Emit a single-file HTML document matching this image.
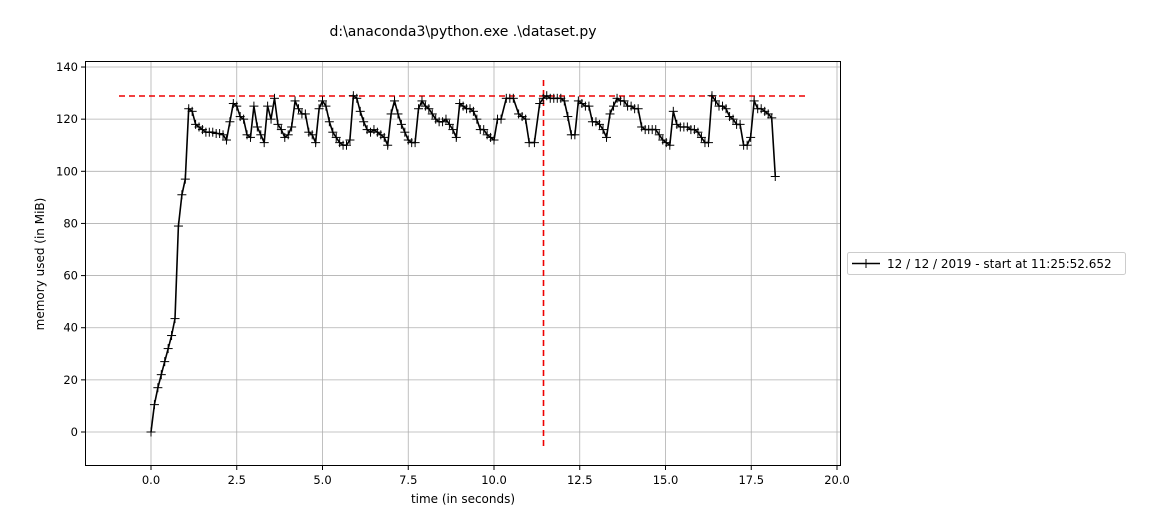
<!DOCTYPE html>
<html><head><meta charset="utf-8"><style>
body{margin:0;background:#fff;}
svg text{font-family:"DejaVu Sans","Liberation Sans",sans-serif;fill:#000;}
</style></head><body>
<svg id="s" width="1157" height="514" xmlns="http://www.w3.org/2000/svg">
<rect width="1157" height="514" fill="#fff"/>
<text x="463" y="36" font-size="14" text-anchor="middle">d:\anaconda3\python.exe .\dataset.py</text>
<g id="grid" stroke="#b0b0b0" stroke-width="0.8"></g>
<g id="ticks" font-size="11.5"></g>
<line x1="119" y1="96" x2="807" y2="96" stroke="#e00" stroke-width="1.6" stroke-dasharray="6,4"/>
<line x1="543.5" y1="80" x2="543.5" y2="448" stroke="#e00" stroke-width="1.6" stroke-dasharray="6,4"/>
<path id="p" fill="none" stroke="#000" stroke-width="1.6"/>
<g id="m" stroke="#000" stroke-width="1"></g>
<rect x="85.5" y="61.5" width="755" height="404" fill="none" stroke="#000" stroke-width="1"/>
<text x="463" y="503" font-size="12" text-anchor="middle">time (in seconds)</text>
<text transform="translate(44,264) rotate(-90)" font-size="12" text-anchor="middle">memory used (in MiB)</text>
<rect x="847.5" y="252.5" width="278" height="22" rx="2" fill="#fff" stroke="#ccc"/>
<line x1="852" y1="263.5" x2="880" y2="263.5" stroke="#000" stroke-width="1.6"/>
<line x1="866" y1="259" x2="866" y2="268" stroke="#000"/><line x1="861.5" y1="263.5" x2="870.5" y2="263.5" stroke="#000"/>
<text x="887" y="268" font-size="12">12 / 12 / 2019 - start at 11:25:52.652</text>
</svg>
<script>
const X=t=>151+t*34.3, Y=v=>432-v*2.607;
const g=document.getElementById('grid'),tk=document.getElementById('ticks');
let h='',k='';
for(let i=0;i<=8;i++){const t=i*2.5,x=X(t);h+=`<line x1="${x}" y1="61" x2="${x}" y2="466"/>`;k+=`<line x1="${x}" y1="466" x2="${x}" y2="470" stroke="#000"/><text x="${x}" y="484" text-anchor="middle">${t.toFixed(1)}</text>`;}
for(let v=0;v<=140;v+=20){const y=Y(v);h+=`<line x1="85" y1="${y}" x2="841" y2="${y}"/>`;k+=`<line x1="81" y1="${y}" x2="85" y2="${y}" stroke="#000"/><text x="78" y="${y+4}" text-anchor="end">${v}</text>`;}
g.innerHTML=h;tk.innerHTML=k;
const V=[[0,0],[0.1,10.5],[0.2,17],[0.3,22],[0.4,27],[0.5,32],[0.6,37],[0.7,43.5],[0.8,79],[0.9,91],[1.0,97],[1.1,124],[1.2,123],[1.3,118],[1.4,117],[1.5,116],[1.6,115],[1.7,115],[1.8,115],[1.9,114.5],[2.0,114.5],[2.1,114],[2.2,112],[2.3,119],[2.4,126],[2.5,125],[2.6,121],[2.7,120],[2.8,114],[2.9,113],[3.0,125],[3.1,117],[3.2,114],[3.3,111],[3.4,125],[3.5,120],[3.6,128],[3.7,118],[3.8,116],[3.9,113],[4.0,114],[4.1,117],[4.2,127],[4.3,124],[4.4,122],[4.5,122],[4.6,115],[4.7,114],[4.8,111],[4.9,124],[5.0,127],[5.1,125],[5.2,119],[5.3,115],[5.4,113],[5.5,111],[5.6,110],[5.7,110],[5.8,112],[5.9,129],[6.0,128],[6.1,123],[6.2,119],[6.3,116],[6.4,115],[6.5,116],[6.6,115],[6.7,114],[6.8,113],[6.9,110],[7.0,122],[7.1,127],[7.2,122],[7.3,118],[7.4,115],[7.5,112],[7.6,111],[7.7,111],[7.8,124],[7.9,127],[8.0,125],[8.1,124],[8.2,122],[8.3,120],[8.4,119],[8.5,119],[8.6,120],[8.7,118],[8.8,116],[8.9,113],[9.0,126],[9.1,125],[9.2,124],[9.3,124],[9.4,123],[9.5,120],[9.6,116],[9.7,116],[9.8,114],[9.9,113],[10.0,112],[10.1,120],[10.2,120],[10.35,128],[10.45,128],[10.55,128],[10.7,122],[10.8,121],[10.9,120],[11.0,111],[11.15,111],[11.3,126],[11.4,128],[11.5,129],[11.6,128],[11.7,128],[11.8,128],[11.9,128],[12.0,127],[12.1,121],[12.2,114],[12.3,114],[12.4,127],[12.5,126],[12.6,125],[12.7,125],[12.8,119],[12.9,119],[13.0,118],[13.1,116],[13.2,113],[13.3,122],[13.4,125],[13.5,128],[13.6,127],[13.7,127],[13.8,125],[13.9,125],[14.0,124],[14.1,124],[14.2,117],[14.3,116],[14.4,116],[14.5,116],[14.6,116],[14.7,114],[14.8,112],[14.9,111],[15.0,110],[15.1,123],[15.2,118],[15.3,117],[15.4,117],[15.5,117],[15.6,116],[15.7,116],[15.8,115],[15.9,113],[16.0,111],[16.1,111],[16.2,129],[16.3,127],[16.4,125],[16.5,125],[16.6,124],[16.7,121],[16.8,120],[16.9,118],[17.0,118],[17.1,110],[17.2,110],[17.3,113],[17.4,127],[17.5,124],[17.6,124],[17.7,123],[17.8,122],[17.9,120.5],[18.0,98]].map(([t,v])=>[t<=10?t:10+(t-10)*8.2/8,v]);
let d='',mm='';
V.forEach(([t,v],i)=>{const x=X(t),y=Y(v);d+=(i?'L':'M')+x.toFixed(1)+','+y.toFixed(1);mm+=`<line x1="${x-4.5}" y1="${y}" x2="${x+4.5}" y2="${y}"/><line x1="${x}" y1="${y-4.5}" x2="${x}" y2="${y+4.5}"/>`;});
document.getElementById('p').setAttribute('d',d);
document.getElementById('m').innerHTML=mm;
</script>
</body></html>
